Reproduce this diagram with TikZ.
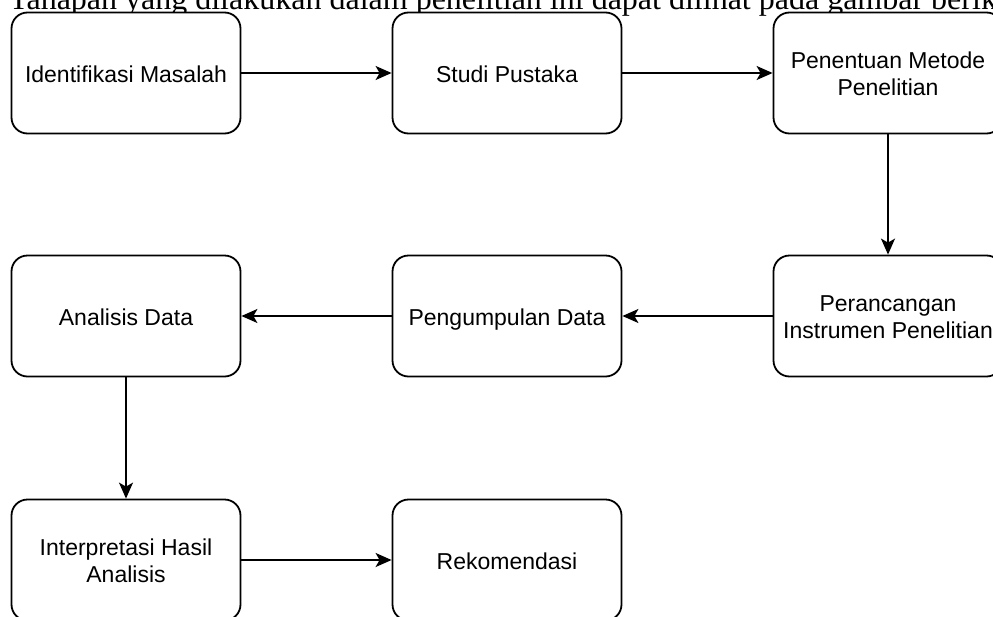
\documentclass[tikz,border=0pt]{standalone}
\usepackage{fontspec}
\setmainfont{Liberation Serif}
\setsansfont{Liberation Sans}
\usetikzlibrary{arrows.meta}

\begin{document}
\begin{tikzpicture}[x=1pt, y=-1pt,
        tahap/.style={draw, line width=1.8pt, rounded corners=16pt, fill=white,
            minimum width=229pt, minimum height=121pt, inner sep=0pt, align=center,
            font=\sffamily\fontsize{23}{27}\selectfont,
            text height=23pt, text depth=5pt},
        tahapdua/.style={tahap, text height=50pt, text depth=5pt},
        panah/.style={-{Stealth[length=16pt, width=14pt, inset=4pt]}, line width=1.8pt}]
    \useasboundingbox (0,0) rectangle (993,616);
    \clip (0,0) rectangle (993,616);
    % kalimat pengantar di atas
    \node[anchor=base west, inner sep=0pt, font=\fontsize{32}{36}\selectfont] (judul) at (9,9)
        {Tahapan yang dilakukan dalam penelitian ini dapat dilihat pada gambar berikut};
    % baris pertama
    \node[tahap] (identifikasi) at (126,73) {Identifikasi Masalah};
    \node[tahap] (studi) at (507,73) {Studi Pustaka};
    \node[tahapdua] (metode) at (888,73) {Penentuan Metode\\Penelitian};
    % baris kedua
    \node[tahap] (analisis) at (126,316) {Analisis Data};
    \node[tahap] (pengumpulan) at (507,316) {Pengumpulan Data};
    \node[tahapdua] (instrumen) at (888,316) {Perancangan\\Instrumen Penelitian};
    % baris ketiga
    \node[tahapdua] (interpretasi) at (126,560) {Interpretasi Hasil\\Analisis};
    \node[tahap] (rekomendasi) at (507,560) {Rekomendasi};
    % alur
    \draw[panah] (identifikasi) -- (studi);
    \draw[panah] (studi) -- (metode);
    \draw[panah] (metode) -- (instrumen);
    \draw[panah] (instrumen) -- (pengumpulan);
    \draw[panah] (pengumpulan) -- (analisis);
    \draw[panah] (analisis) -- (interpretasi);
    \draw[panah] (interpretasi) -- (rekomendasi);
\end{tikzpicture}
\end{document}
